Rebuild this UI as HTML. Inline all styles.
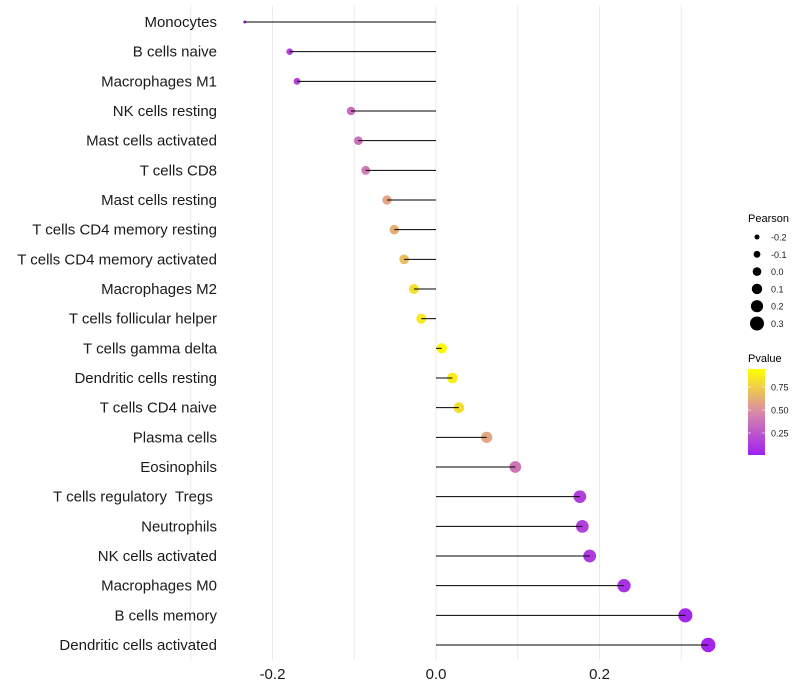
<!DOCTYPE html>
<html><head><meta charset="utf-8"><style>
body{margin:0;background:#fff;}
svg{display:block;font-family:"Liberation Sans",sans-serif;}
text{white-space:pre;}
</style></head><body>
<svg id="chart" width="800" height="700">
<defs><linearGradient id="pg" x1="0" y1="1" x2="0" y2="0">
<stop offset="0" stop-color="#a020f0"/><stop offset="0.5" stop-color="#d98aa8"/><stop offset="1" stop-color="#ffff00"/>
</linearGradient></defs>
<g id="grid"></g>
<g id="marks"></g>
<g id="axes"></g>
<g id="legend"></g>
</svg>
<script>
const categories=["Monocytes","B cells naive","Macrophages M1","NK cells resting","Mast cells activated","T cells CD8","Mast cells resting","T cells CD4 memory resting","T cells CD4 memory activated","Macrophages M2","T cells follicular helper","T cells gamma delta","Dendritic cells resting","T cells CD4 naive","Plasma cells","Eosinophils","T cells regulatory  Tregs ","Neutrophils","NK cells activated","Macrophages M0","B cells memory","Dendritic cells activated"];
const pearson=[-0.234,-0.179,-0.170,-0.104,-0.095,-0.086,-0.060,-0.051,-0.039,-0.027,-0.018,0.007,0.020,0.028,0.062,0.097,0.176,0.179,0.188,0.230,0.305,0.333];
const pvalue=[0.04,0.15,0.16,0.36,0.38,0.42,0.62,0.66,0.72,0.86,0.90,0.97,0.92,0.86,0.62,0.40,0.15,0.15,0.12,0.08,0.03,0.02];
const xTicks=[-0.2,0.0,0.2];
const xTickLabels=["-0.2","0.0","0.2"];
const sizeLegend=[-0.2,-0.1,0.0,0.1,0.2,0.3];
const pLegend=[0.25,0.5,0.75];
const NS="http://www.w3.org/2000/svg";
const X=v=>436+v*817.5;
const Y=i=>22+i*29.667;
const R=v=>{const t=Math.max(0,(v+0.234)/0.567);return 1.5+Math.sqrt(t)*5.7;};
function mix(a,b,t){return a.map((c,i)=>Math.round(c+(b[i]-c)*t));}
function col(p){const s=[[160,32,240],[217,138,168],[255,255,0]];const t=Math.max(0,Math.min(1,p));
 const c=t<0.5?mix(s[0],s[1],t/0.5):mix(s[1],s[2],(t-0.5)/0.5);return `rgb(${c})`;}
function el(tag,attrs,parent,txt){const e=document.createElementNS(NS,tag);for(const k in attrs)e.setAttribute(k,attrs[k]);if(txt!=null)e.textContent=txt;parent.appendChild(e);return e;}
const grid=document.getElementById('grid'),marks=document.getElementById('marks'),axes=document.getElementById('axes'),leg=document.getElementById('legend');
[-0.3,-0.2,-0.1,0,0.1,0.2,0.3].forEach(v=>{const g=el('line',{x1:X(v),x2:X(v),y1:5,y2:660,stroke:'#ebebeb','stroke-width':1},grid);

});
categories.forEach((c,i)=>{
 const cc=el('circle',{cx:X(pearson[i]),cy:Y(i),r:R(pearson[i]),fill:col(pvalue[i])},marks);
 
 
 const l=el('line',{x1:X(0),x2:X(pearson[i]),y1:Y(i),y2:Y(i),stroke:'#000','stroke-width':1},marks);
 
 
 const t=el('text',{x:217,y:Y(i)+5,'text-anchor':'end','font-size':15,fill:'#1a1a1a'},axes,c);
 
 
});
xTicks.forEach((v,i)=>{const t=el('text',{x:X(v),y:679,'text-anchor':'middle','font-size':15,fill:'#1a1a1a'},axes,xTickLabels[i]);

});
const lt=el('text',{x:748,y:222,'font-size':11,fill:'#000'},leg,'Pearson');


sizeLegend.forEach((v,i)=>{const y=237+i*17.3;
 const c=el('circle',{cx:757,cy:y,r:2.5+(v+0.2)*9,fill:'#000'},leg);
 
 
 const t=el('text',{x:771,y:y+3.5,'font-size':9,fill:'#1a1a1a'},leg,v.toFixed(1));
 
 });
const pt=el('text',{x:748,y:362,'font-size':11,fill:'#000'},leg,'Pvalue');


const bar=el('rect',{x:748,y:369,width:17,height:86,fill:'url(#pg)'},leg);


pLegend.forEach(v=>{const y=456-v*92;
 el('line',{x1:748,x2:751,y1:y,y2:y,stroke:'#fff','stroke-opacity':0.6},leg);
 el('line',{x1:762,x2:765,y1:y,y2:y,stroke:'#fff','stroke-opacity':0.6},leg);
 const t=el('text',{x:771,y:y+3.5,'font-size':9,fill:'#1a1a1a'},leg,v.toFixed(2));
 
 });
</script>
</body></html>
